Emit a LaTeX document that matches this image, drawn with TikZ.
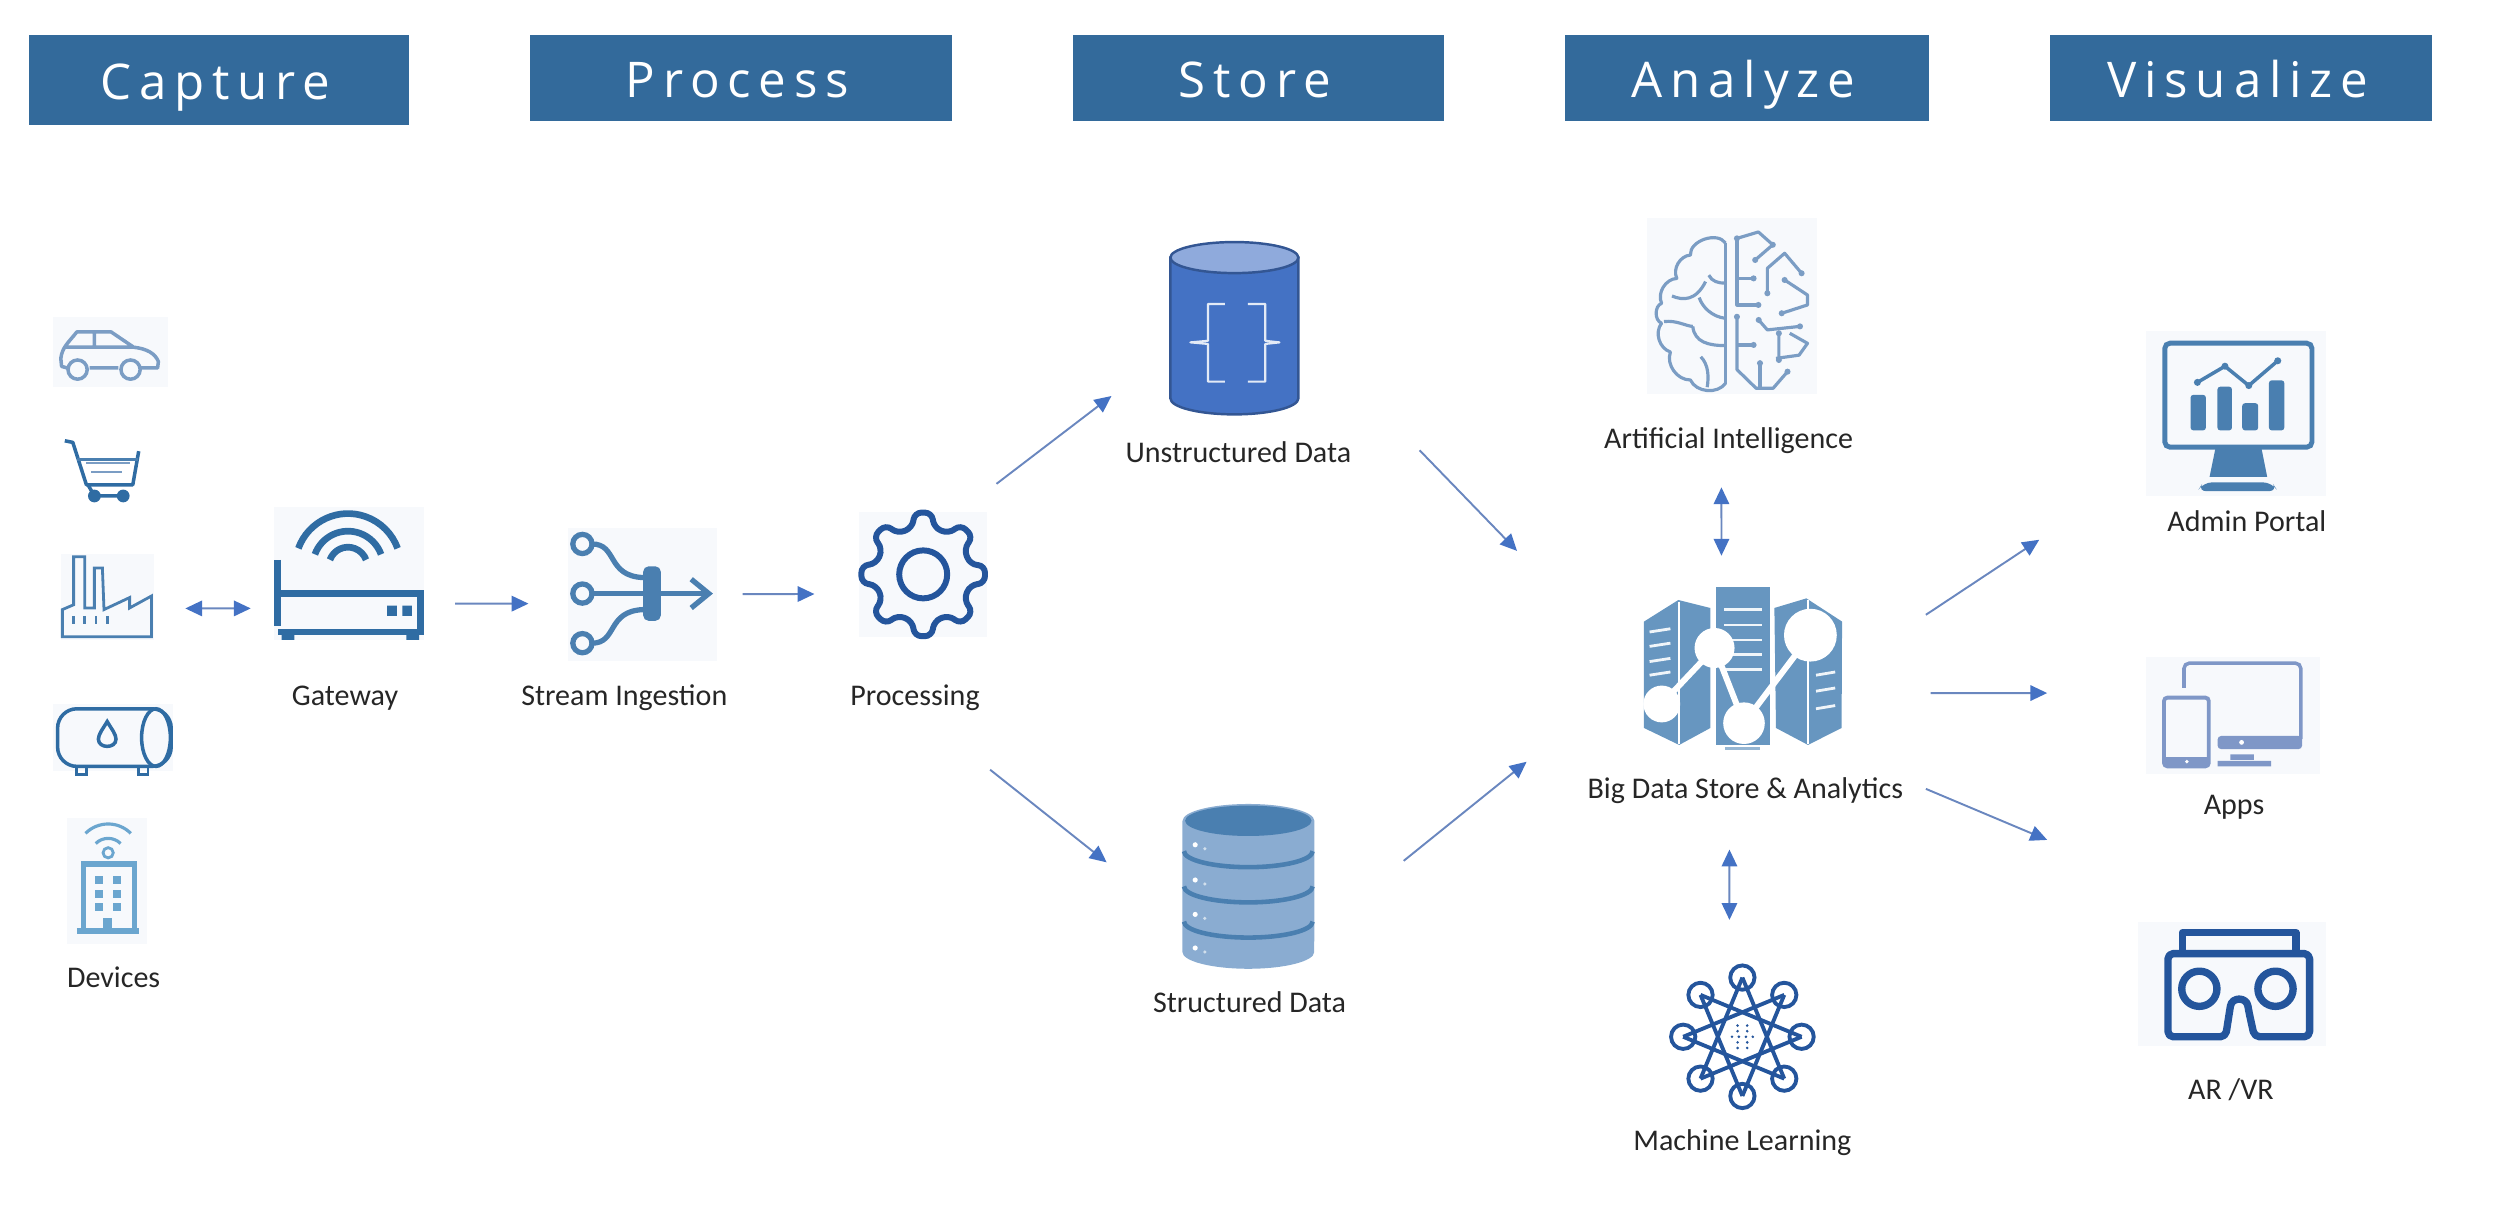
\documentclass[tikz,border=0pt]{standalone}
\usepackage{fontspec}
\setmainfont{Carlito}
\newfontfamily\headfont[LetterSpace=16]{Open Sans}
\usetikzlibrary{arrows.meta, positioning}

\definecolor{headblue}{HTML}{336A9B}
\definecolor{faint}{HTML}{F7F9FC}
\definecolor{flowline}{HTML}{6A87BF}
\definecolor{flowhead}{HTML}{4472C4}
\definecolor{steel}{HTML}{4A7FB0}
\definecolor{deep}{HTML}{2F6CA3}
\definecolor{navy}{HTML}{24559C}
\definecolor{pale}{HTML}{7B9DC4}
\definecolor{sky}{HTML}{6BA6CF}
\definecolor{slate}{HTML}{6796C0}
\definecolor{rack}{HTML}{8AACD1}
\definecolor{periwinkle}{HTML}{7F97C7}

\tikzset{
  head node/.style 2 args={fill=headblue,text=white,inner sep=0,outer sep=0,
    minimum width=#1*0.01597cm,minimum height=#2*0.01597cm,text height=11pt,text depth=0pt,
    execute at end node={\hspace{2pt}},font=\headfont\fontsize{14}{16}\selectfont},
  icon node/.style 2 args={fill=faint,inner sep=0,outer sep=0,
    minimum width=#1*0.01597cm,minimum height=#2*0.01597cm},
  hollow node/.style 2 args={inner sep=0,outer sep=0,
    minimum width=#1*0.01597cm,minimum height=#2*0.01597cm},
  text node/.style={inner sep=0,outer sep=0,text=black!85,text height=6.2pt,text depth=2pt,
    yshift=-0.024cm,font=\fontsize{8.55}{11}\selectfont},
  flow/.style={draw=flowline,line width=0.55pt,-{Triangle[length=4.8pt,width=4.4pt,color=flowhead]}},
  twoway/.style={draw=flowline,line width=0.55pt,
    {Triangle[length=4.8pt,width=4.4pt,color=flowhead]}-{Triangle[length=4.8pt,width=4.4pt,color=flowhead]}}
}

\begin{document}
\begin{tikzpicture}[x=0.01597cm,y=-0.01597cm]
  \useasboundingbox (0,0) rectangle (1568,760.2);

  % headers
  \node[head node={238}{56}] (capture) at (137,50) {Capture};
  \node[head node={264}{54}] (process) at (464,49) {Process};
  \node[head node={232}{54}] (store) at (788,49) {Store};
  \node[head node={228}{54}] (analyze) at (1094,49) {Analyze};
  \node[head node={239}{54}] (visualize) at (1403.5,49) {Visualize};

  % icon places
  \begin{scope}[scale=1.0019]
    \node[icon node={72}{44}] (car) at (69,220) {};
    \node[icon node={58}{54}] (factory) at (67,373) {};
    \node[icon node={75}{42}] (tank) at (70.5,461) {};
    \node[icon node={50}{79}] (building) at (67,550.5) {};
    \node[icon node={94}{83}] (gateway) at (218,358.5) {};
    \node[icon node={93}{83}] (stream) at (401.5,371.5) {};
    \node[icon node={80}{78}] (proc) at (577,359) {};
    \node[hollow node={81}{109}] (unstructured) at (771.5,205.5) {};
    \node[hollow node={83}{104}] (structured) at (780.5,554) {};
    \node[icon node={107}{110}] (brain) at (1082.5,191.2) {};
    \node[hollow node={125}{102}] (bigdata) at (1089.5,417) {};
    \node[hollow node={90}{94}] (learning) at (1089,648) {};
    \node[icon node={113}{103}] (admin) at (1397.5,258.5) {};
    \node[icon node={109}{73.4}] (apps) at (1395.5,447.3) {};
    \node[icon node={118}{78}] (arvr) at (1395,615) {};
  \end{scope}

  % labels
  \node[text node] (devicestxt) [below=0.192cm of building,xshift=0.064cm] {Devices};
  \node[text node] (gatewaytxt) [below=0.416cm of gateway,xshift=-0.038cm] {Gateway};
  \node[text node] (streamtxt) [below=0.208cm of stream,xshift=-0.181cm] {Stream Ingestion};
  \node[text node] (proctxt) [below=0.448cm of proc,xshift=-0.082cm] {Processing};
  \node[text node] (unstructuredtxt) [below=0.224cm of unstructured,xshift=0.04cm] {Unstructured Data};
  \node[text node] (structuredtxt) [below=0.192cm of structured,xshift=0.008cm] {Structured Data};
  \node[text node] (braintxt) [below=0.304cm of brain,xshift=-0.034cm] {Artificial Intelligence};
  \node[text node] (bigdatatxt) [below=0.256cm of bigdata,xshift=0.022cm] {Big Data Store \& Analytics};
  \node[text node] (learningtxt) [below=0.144cm of learning] {Machine Learning};
  \node[text node] (admintxt) [below=0.112cm of admin,xshift=0.109cm] {Admin Portal};
  \node[text node] (appstxt) [below=0.16cm of apps,xshift=0.013cm] {Apps};
  \node[text node] (arvrtxt) [below=0.288cm of arvr,xshift=-0.011cm] {AR /VR};

  % connectors
  \draw[twoway] ([shift={(19.9,7.3)}]factory.east) -- ([shift={(-14.4,21.8)}]gateway.west);
  \draw[flow] ([shift={(19.6,18.8)}]gateway.east) -- ([shift={(-24.8,5.8)}]stream.west);
  \draw[flow] ([shift={(16.2,-0.2)}]stream.east) -- ([shift={(-28.1,12.3)}]proc.west);
  \draw[flow] ([shift={(5.9,-17.7)}]proc.north east) -- ([shift={(-36.5,-12.4)}]unstructured.south west);
  \draw[flow] ([shift={(1.9,83.3)}]proc.south east) -- ([shift={(-47.5,36.95)}]structured.north west);
  \draw[flow] ([shift={(75.5,21.6)}]unstructured.south east) -- ([shift={(-79.1,-21.8)}]bigdata.north west);
  \draw[flow] ([shift={(55.5,36)}]structured.north east) -- ([shift={(-73.1,59.2)}]bigdata.west);
  \draw[twoway] ([shift={(-6.6,58.6)}]brain.south) -- ([shift={(-13.6,-18.8)}]bigdata.north);
  \draw[twoway] ([shift={(-8.6,63.2)}]bigdata.south) -- ([shift={(-8.1,-26.2)}]learning.north);
  \draw[flow] ([shift={(51.9,18.2)}]bigdata.north east) -- ([shift={(-66.7,27.5)}]admin.south west);
  \draw[flow] ([shift={(54.9,16.2)}]bigdata.east) -- ([shift={(-61.7,-14.15)}]apps.west);
  \draw[flow] ([shift={(51.9,25.2)}]bigdata.south east) -- ([shift={(-56.7,-51.2)}]arvr.north west);

  \begin{scope}[scale=1.0019]
  % car
  \draw[pale,line width=1pt,line join=round]
    (42,230) -- (38.5,229) -- (38,224) .. controls (39,217) and (42,215) .. (48,207.5)
    -- (69.5,207.5) -- (83.5,217) .. controls (92,218) and (97,221) .. (99,226)
    -- (98.5,230) -- (88,230) (56,230) -- (74,230)
    (59,207.5) -- (59,217) (41,217) -- (83.5,217);
  \draw[pale,line width=1pt] (48.5,231) circle (6) (81.6,231) circle (6);

  % cart
  \draw[deep,line width=1pt,line join=round]
    (40.5,275.5) -- (45.5,276.5) -- (54,303) -- (83,303) -- (86.7,282);
  \draw[steel,line width=0.8pt] (48,287) -- (86,287);
  \draw[pale,line width=0.7pt] (54,289.5) -- (81,289.5) (57,295) -- (76.5,295);
  \draw[deep,line width=1pt] (59,310) -- (77,310) (55,303) -- (59,310);
  \fill[deep] (59,310) circle (4) (77,310) circle (4);

  % factory
  \draw[steel,line width=0.8pt,line join=miter]
    (39,381) -- (39,398) -- (94.7,398) -- (94.7,372.5) -- (81,380) -- (81,373.5) -- (65,381)
    -- (64,355) -- (59,355) -- (59,380) -- (53,380) -- (53,348) -- (46,348) -- (46,378) -- cycle;
  \foreach \x in {46,53,60,67}
    \draw[steel,line width=0.8pt] (\x,385) -- (\x,390);

  % tank
  \draw[deep,line width=1pt,rounded corners=5.5pt] (36,443) rectangle (107,479);
  \draw[deep,line width=1pt] (97.5,461) ellipse (9 and 18);
  \draw[deep,line width=1pt] (67,451) .. controls (64,456) and (61.5,459) .. (61.5,462)
    .. controls (61.5,468) and (72.5,468) .. (72.5,462) .. controls (72.5,459) and (70,456) .. (67,451) -- cycle;
  \draw[deep,line width=0.8pt] (48,479) rectangle (54,484) (86.5,479) rectangle (92.5,484);

  % building
  \draw[sky,line width=0.9pt] ([shift={(225:20)}]67.6,535) arc[start angle=225,end angle=315,radius=20];
  \draw[sky,line width=0.9pt] ([shift={(225:11)}]67.6,535) arc[start angle=225,end angle=315,radius=11];
  \draw[sky,line width=0.8pt] (67.6,533) circle (3.2);
  \draw[sky,line width=1.5pt] (52,581) -- (52,540) -- (84,540) -- (84,581);
  \draw[sky,line width=1.7pt] (48,582) -- (87,582);
  \foreach \y in {550,558.5,567} {
    \fill[sky] (59.5,\y-2.5) rectangle +(5,5);
    \fill[sky] (70.5,\y-2.5) rectangle +(5,5);
  }
  \fill[sky] (64.5,574) rectangle (70,582);

  % gateway
  \foreach \r in {33,22,12}
    \draw[deep,line width=1.9pt] ([shift={(200:\r)}]217.5,354) arc[start angle=200,end angle=340,radius=\r];
  \draw[deep,line width=1.9pt] (173.5,350) -- (173.5,391);
  \draw[deep,line width=1.9pt] (173.5,371) -- (263,371) -- (263,395) -- (173.5,395);
  \fill[deep] (176,395) rectangle (184,400) (254,395) rectangle (262,400);
  \fill[deep] (242,378.5) rectangle +(6,6.5) (251.5,378.5) rectangle +(6,6.5);

  % stream ingestion
  \begin{scope}[steel,line width=1.5pt]
    \draw (364,340) circle (6) (364,371) circle (6) (364,402) circle (6);
    \draw (370,371) -- (443,371);
    \draw (432,362) -- (443,371) -- (432,380);
    \draw (370,340) .. controls (386,340) and (379,360) .. (402,361);
    \draw (370,402) .. controls (386,402) and (379,382) .. (402,381);
    \fill[rounded corners=1.5pt] (402,354) rectangle (413,388);
  \end{scope}

  % processing gear
  \draw[navy,line width=1.7pt,rounded corners=2pt,shift={(577,359)}]
    (-12:30) \foreach \a in {0,45,...,270} { -- (\a-8:39) -- (\a+8:39) -- (\a+13:30) -- (\a+32:30) }
    -- (307:39) -- (323:39) -- (328:30) -- cycle;
  \draw[navy,line width=1.7pt] (577,359) circle (15);

  % unstructured data
  \draw[draw=flowhead!75!black,fill=flowhead,line width=0.7pt]
    (731.5,161) -- (731.5,249) arc[start angle=180,end angle=0,x radius=40,y radius=10] -- (811.5,161) -- cycle;
  \draw[draw=flowhead!75!black,fill=flowhead!60!white,line width=0.7pt] (771.5,161) ellipse (40 and 9.7);
  \draw[white!85!flowhead,line width=0.6pt,line join=round]
    (765.5,190) -- (755,190) -- (755,213) -- (744,214) -- (755,215) -- (755,238.5) -- (765.5,238.5)
    (780,190) -- (790.8,190) -- (790.8,213) -- (799.7,214) -- (790.8,215) -- (790.8,238.5) -- (780,238.5);

  % structured data
  \fill[rack]
    (739,513) -- (739,595) arc[start angle=180,end angle=0,x radius=41.2,y radius=10.5] -- (821.5,513)
    arc[start angle=0,end angle=-180,x radius=41.2,y radius=10.5] -- cycle;
  \fill[steel] (780.2,513) ellipse (39.5 and 9.5);
  \foreach \y in {532,554,576}
    \draw[steel,line width=1.3pt] (740,\y) arc[start angle=180,end angle=0,x radius=40.2,y radius=10];
  \foreach \y in {528,550,571.5,592.5} {
    \fill[white] (747,\y) circle (1.6);
    \fill[white!70!slate] (753,\y+2.5) circle (1.1);
  }

  % artificial intelligence
  \begin{scope}[pale,line width=0.9pt,line join=round]
    \draw (1078.5,152) to[bend right=75] (1056.5,159.4) to[bend right=55] (1048,174)
      to[bend right=55] (1038.5,189.6) to[bend right=70] (1038.5,202) to[bend right=55] (1044,220)
      to[bend right=55] (1056.5,237.5) to[bend right=60] (1078.5,239.5);
    \draw (1078.5,152) -- (1078.5,240);
    \draw (1068,172) .. controls (1070,176) and (1074,177) .. (1078.5,177);
    \draw (1045,185) .. controls (1052,188) and (1060,188) .. (1066,176);
    \draw (1058,204) .. controls (1059,214) and (1068,216) .. (1078.5,216);
    \draw (1063,223) .. controls (1068,228) and (1068,236) .. (1067,242);
    \draw (1040,201) .. controls (1048,200) and (1054,204) .. (1058,204);
    \draw (1062,186) .. controls (1064,192) and (1070,198) .. (1078.5,199);
    \draw (1085.6,149) -- (1099,145) -- (1108,153) -- (1097,162.5);
    \draw (1085.6,149) -- (1085.6,190.6) -- (1099,190.6) (1085.6,174) -- (1096,174);
    \draw (1104.6,183.3) -- (1104.6,167.7) -- (1115.4,158.3) -- (1126,170.8);
    \draw (1115.4,175) -- (1129.7,184.4) -- (1129.7,190.6) -- (1113.6,195.8);
    \draw (1085.6,198) -- (1085.6,231) -- (1097.6,242.7) -- (1108.2,242.7) -- (1117.2,232.3);
    \draw (1085.6,215.6) -- (1096,215.6) (1100,227) -- (1100,242.7);
    \draw (1099.2,200) -- (1104.6,206.2) -- (1125,204) (1111.8,208.3) -- (1111.8,225);
    \draw (1110,224) -- (1124.4,222) -- (1129.7,214.6) -- (1118.6,208.3);
    \foreach \p in {(1085.6,149),(1108,153),(1097,162.5),(1096,174),(1099,190.6),(1104.6,183.3),(1126,170.8),
      (1115.4,175),(1113.6,195.8),(1085.6,198),(1099.2,200),(1125,204),(1096,215.6),(1111.8,208.3),
      (1111.8,225),(1100,227),(1117.2,232.3)}
      \fill \p circle (1.9);
  \end{scope}

  % big data store
  \fill[slate] (1027.5,388.5) -- (1049,375) -- (1069,380) -- (1069,455) -- (1049.5,465.6) -- (1027.5,455) -- cycle;
  \fill[slate] (1109,380) -- (1129,374) -- (1151.3,388.5) -- (1151,455) -- (1130,465.6) -- (1110,455) -- cycle;
  \fill[slate] (1072.4,366.6) rectangle (1106.4,465.6);
  \draw[slate!70!white,line width=0.8pt] (1078,468) -- (1100,468);
  \draw[white,line width=0.6pt] (1049.3,376) -- (1049.3,465) (1130,375) -- (1130,465);
  \begin{scope}[white!90!slate,line width=0.8pt]
    \foreach \y in {394,403,412.5,421}
      \draw (1031,\y+1) -- (1044,\y-1);
    \foreach \y in {381,390.6,400,409,418.7}
      \draw (1077.7,\y) -- (1101,\y);
    \foreach \y in {421,431,442}
      \draw (1135,\y+1) -- (1147,\y-1);
  \end{scope}
  \draw[white,line width=1.7pt] (1038.6,440) -- (1071.6,405) -- (1090,452) -- (1131.5,397);
  \fill[white] (1071.6,405) circle (12.5) (1131.5,397) circle (16.5) (1038.6,440) circle (11.5) (1090,452) circle (13);

  % machine learning
  \begin{scope}[navy,line width=1.1pt,shift={(1089,648)}]
    \foreach \a in {0,45,...,315} {
      \draw (\a:37) circle (7.6);
      \draw (\a:37) -- (\a+135:37);
    }
    \foreach \p in {(-3,-7),(3,-7),(-6.5,0),(-2.2,0),(2.2,0),(6.5,0),(-3,7),(3,7),(-3,-3.5),(3,-3.5),(-3,3.5),(3,3.5)}
      \fill \p circle (0.9);
  \end{scope}

  % admin portal
  \draw[steel,line width=1.4pt,rounded corners=1.5pt] (1353,214.5) rectangle (1445,279.5);
  \fill[steel] (1384.7,280) -- (1413.4,280) -- (1417,298) -- (1381,298) -- cycle;
  \fill[steel,rounded corners=2.5pt] (1373.4,307) -- (1377,301.5) -- (1420,301.5) -- (1423.6,307) -- cycle;
  \fill[steel,rounded corners=0.8pt] (1369.1,246.8) rectangle (1378.7,269) (1385.9,241.7) rectangle (1395,269)
    (1401.4,252) rectangle (1411.4,269) (1418.1,237.7) rectangle (1427.7,269);
  \draw[steel,line width=1pt] (1373.4,239) -- (1390.6,228.9) -- (1405.5,241) -- (1423.6,225.5);
  \fill[steel] (1373.4,239) circle (2.2) (1390.6,228.9) circle (2.2) (1405.5,241) circle (2.2) (1423.6,225.5) circle (2.2);

  % apps
  \draw[periwinkle,line width=1pt,rounded corners=1.5pt] (1365,430) -- (1365,414.5) -- (1438,414.5) -- (1438,462);
  \fill[periwinkle,rounded corners=1pt] (1386,460) rectangle (1438.8,468.2);
  \fill[white] (1401,464) circle (1.5);
  \fill[periwinkle] (1394,471.5) rectangle (1408.6,475) (1386,475.5) rectangle (1419.4,479);
  \draw[periwinkle,line width=1.1pt,rounded corners=1pt] (1352.5,436) rectangle (1380.5,479);
  \fill[periwinkle] (1352.5,473) rectangle (1380.5,479);
  \fill[white] (1366.8,476) circle (1.2);

  % ar vr
  \begin{scope}[navy,line width=2.1pt,line join=round]
    \draw (1364,595) -- (1364,583) -- (1435,583) -- (1435,595);
    \draw[rounded corners=1.5pt] (1355,596) -- (1443.5,596) -- (1443.5,648) -- (1409,648) -- (1405.5,632)
      .. controls (1404,623) and (1395,623) .. (1393.5,632) -- (1391,648) -- (1355,648) -- cycle;
    \draw (1374.6,618) ellipse (11 and 11);
    \draw (1422.2,618) ellipse (11 and 11);
  \end{scope}
  \end{scope}
\end{tikzpicture}
\end{document}
